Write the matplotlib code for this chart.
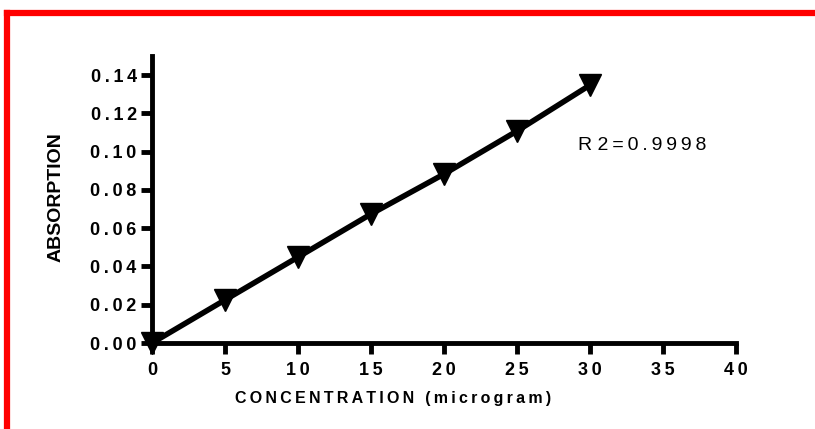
import matplotlib.pyplot as plt
from matplotlib.lines import Line2D

# standard curve readings
conc = [0, 5, 10, 15, 20, 25, 30]
absorption = [0.000, 0.0225, 0.0449, 0.0674, 0.0883, 0.1108, 0.1348]
x_ticks = [0, 5, 10, 15, 20, 25, 30, 35, 40]
y_ticks = [0.00, 0.02, 0.04, 0.06, 0.08, 0.10, 0.12, 0.14]
r2_label = "R 2=0.9998"
x_label = "CONCENTRATION (microgram)"

plt.rcParams["font.family"] = ["Liberation Sans", "DejaVu Sans"]

THIN = "\u2009"


def spaced(s, sp=THIN):
    # the original software draws text with wide letter spacing
    return sp.join(s)


W, H = 815, 429
fig = plt.figure(figsize=(W / 100, H / 100), dpi=100)
ax = fig.add_axes([152 / W, 1 - 343 / H, (736 - 152) / W, (343 - 56) / H])

ax.plot(conc, absorption, color="black", lw=4, marker="v", ms=16,
        clip_on=False, zorder=5)

ax.set_xlim(0, 40)
ax.set_ylim(0, 0.15)
ax.set_xticks(x_ticks)
ax.set_xticklabels([spaced(str(t)) for t in x_ticks])
ax.set_yticks(y_ticks)
ax.set_yticklabels([spaced(f"{t:.2f}") for t in y_ticks])

for s in ["top", "right"]:
    ax.spines[s].set_visible(False)
for s in ["left", "bottom"]:
    ax.spines[s].set_linewidth(3.5)
ax.tick_params(width=3.5, length=8, direction="out", labelsize=13)
ax.tick_params(axis="x", pad=6)
ax.tick_params(axis="y", pad=3)
for lab in ax.get_xticklabels() + ax.get_yticklabels():
    lab.set_fontweight("bold")

fig.text(393 / W, 1 - 399 / H, spaced(x_label), ha="center",
         va="center", fontsize=11.5, fontweight="bold")
fig.text(56 / W, 1 - 197 / H, "ABSORPTION", rotation=90, ha="center",
         va="center", fontsize=14, fontweight="bold")
r, rest = r2_label.split(" ", 1)
fig.text(578 / W, 1 - 150 / H, r + " " + spaced(rest), fontsize=14, ha="left",
         va="baseline")

# red frame (top and left edges)
fig.add_artist(Line2D([7 / W, 1], [1 - 13 / H, 1 - 13 / H], color="red", lw=4.5,
                      transform=fig.transFigure))
fig.add_artist(Line2D([7 / W, 7 / W], [0, 1 - 13 / H], color="red", lw=4.5,
                      transform=fig.transFigure))

fig.savefig("out.png", dpi=100)
